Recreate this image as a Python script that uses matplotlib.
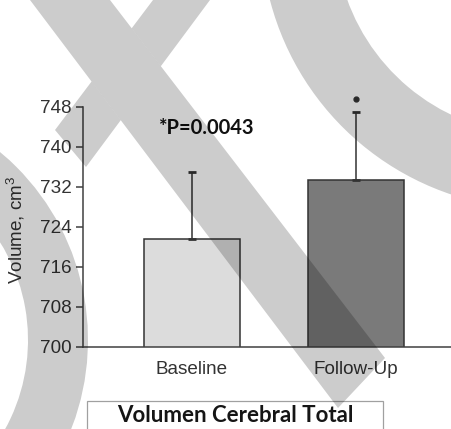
import matplotlib
matplotlib.use("Agg")
import matplotlib.pyplot as plt
from matplotlib.patches import Polygon, Wedge, Rectangle
from matplotlib.transforms import Affine2D

plt.rcParams["mathtext.default"] = "regular"

# ---- data ----
categories = ["Baseline", "Follow-Up"]
means = [721.5, 733.3]
sd_upper = [13.5, 13.6]
yticks = [700, 708, 716, 724, 732, 740, 748]
p_label = "*P=0.0043"
title = "Volumen Cerebral Total"
ylabel = "Volume, cm$^{3}$"

W, H = 451, 429
fig = plt.figure(figsize=(W / 100, H / 100), dpi=100)
fig.patch.set_facecolor("white")

ax = fig.add_axes([83 / W, 1 - 346.7 / H, 1 - 83 / W, (346.7 - 106.7) / H])
pos = list(range(len(categories)))
ax.bar(pos, means, width=0.585, bottom=0, color=["#dcdcdc", "#7a7a7a"],
       edgecolor="#333333", linewidth=1.1, zorder=2)
ax.errorbar(pos, means, yerr=[[0, 0], sd_upper], fmt="none", ecolor="#333333",
            elinewidth=1.1, capsize=2.8, capthick=2, zorder=3)
ax.set_ylim(700, 748)
ax.set_xlim(-0.665, 1.579)
ax.set_yticks(yticks)
ax.set_xticks(pos)
ax.set_xticklabels(categories)
for s in ["top", "right"]:
    ax.spines[s].set_visible(False)
for s in ["left", "bottom"]:
    ax.spines[s].set_color("#404040")
    ax.spines[s].set_linewidth(1.1)
ax.tick_params(axis="y", length=5, width=1.1, color="#404040", pad=3,
               labelsize=13.6, labelcolor="#333333")
ax.tick_params(axis="x", length=0, pad=10, labelsize=13.6, labelcolor="#333333")
for lbl in ax.get_xticklabels() + ax.get_yticklabels():
    lbl.set_family("Liberation Sans")
ax.set_ylabel(ylabel, family="Liberation Sans", fontsize=13.6, color="#333333")
ax.yaxis.set_label_coords(-0.152, 0.486)

ax.text(0.085, 743.7, p_label, ha="center", va="center", fontsize=14.5,
        fontweight="bold", family="Lato", color="#111111")
ax.plot([1], [749.5], marker="o", markersize=3.5, color="#333333", clip_on=False)

# ---- caption box ----
px = Affine2D().scale(1, -1).translate(0, H) + Affine2D().scale(1 / W, 1 / H) + fig.transFigure
fig.add_artist(Rectangle((87, 401), 296, 40, transform=px, facecolor="white",
                         edgecolor="#a0a0a0", linewidth=0.9, zorder=5))
fig.text(235 / W, 1 - 422 / H, title, ha="center", va="baseline", fontsize=16,
         fontweight="bold", family="Lato", color="#151515", zorder=6)

# ---- translucent grey strokes over the figure ----
def inter(p1, p2, q1, q2):
    (x1, y1), (x2, y2) = p1, p2
    (x3, y3), (x4, y4) = q1, q2
    d = (x1 - x2) * (y3 - y4) - (y1 - y2) * (x3 - x4)
    t = ((x1 - x3) * (y3 - y4) - (y1 - y3) * (x3 - x4)) / d
    return (x1 + t * (x2 - x1), y1 + t * (y2 - y1))

la = ((30, 0), (338, 408))
ra = ((110, 0), (385, 358))
lb = ((153, 0), (55, 130))
rb = ((210, 0), (86, 167))
shade = dict(facecolor="black", alpha=0.2, edgecolor="none", transform=px, zorder=10)
strokes = [
    [la[0], ra[0], ra[1], la[1]],
    [lb[0], rb[0], inter(*rb, *ra), inter(*lb, *ra)],
    [inter(*lb, *la), inter(*rb, *la), rb[1], lb[1]],
]
for pts in strokes:
    fig.add_artist(Polygon(pts, closed=True, **shade))
fig.add_artist(Wedge((540, -70), 279, 60, 200, width=74, **shade))
fig.add_artist(Wedge((-157, 340), 245, -80, 60, width=60, **shade))

fig.savefig("out.png", dpi=100, facecolor="white")
